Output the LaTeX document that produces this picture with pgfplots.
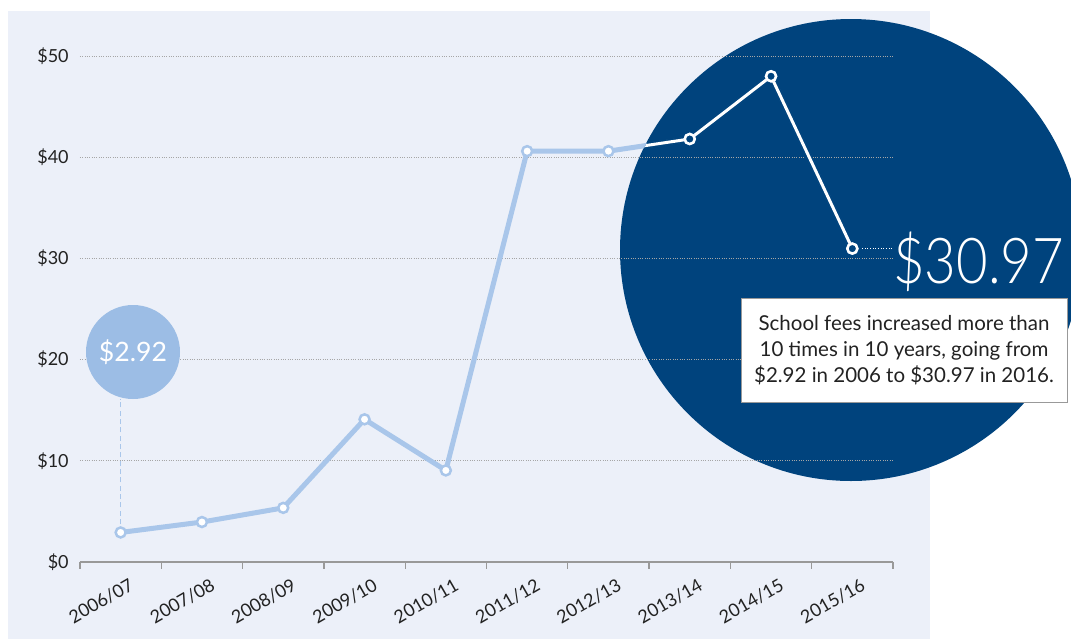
\documentclass[border=0pt]{standalone}
\usepackage{pgfplots}
\pgfplotsset{compat=1.18}
\usepackage{fontspec}
\setmainfont{Lato}
\newfontfamily\lightfont{Lato Light}
\definecolor{bgc}{HTML}{ECF0F9}
\definecolor{lineblue}{HTML}{A9C6EA}
\definecolor{navy}{HTML}{00437D}
\definecolor{smallc}{HTML}{9CBDE5}
\definecolor{txt}{HTML}{222222}
\begin{document}
\begin{tikzpicture}
\useasboundingbox (0pt,0pt) rectangle (642.6pt,-383.4pt);
\fill[bgc] (4.8pt,-6.6pt) rectangle (558pt,-383.4pt);
\fill[navy] (510.6pt,-150pt) circle[radius=138.6pt];
\begin{axis}[
  at={(48pt,-337.2pt)}, anchor=south west,
  scale only axis, width=487.8pt, height=303.6pt,
  xmin=-0.5, xmax=9.5, ymin=0, ymax=50,
  clip=false,
  axis lines*=left,
  y axis line style={draw=none},
  x axis line style={draw=black!40, line width=0.8pt},
  xtick={0,...,9},
  xticklabels={2006/07,2007/08,2008/09,2009/10,2010/11,2011/12,2012/13,2013/14,2014/15,2015/16},
  xtick style={draw=none},
  minor xtick={-0.5,0.5,...,9.5},
  minor tick length=4pt,
  minor x tick style={draw=black!40, line width=0.8pt},
  tick align=outside,
  ytick={0,10,...,50},
  yticklabels={\$0,\$10,\$20,\$30,\$40,\$50},
  ytick style={draw=none},
  ymajorgrids,
  grid style={black!35, densely dotted, line width=0.5pt},
  tick label style={font=\fontsize{10.8}{12}\selectfont, text=txt},
  xticklabel style={rotate=30, anchor=north east, xshift=5pt, yshift=-3pt},
  yticklabel style={xshift=1pt},
]
\draw[lineblue, densely dashed, line width=0.5pt] (axis cs:0,2.92) -- (axis cs:0,16.1);
\addplot[lineblue, line width=3pt, mark=*, mark size=3pt,
  mark options={fill=white, draw=lineblue, line width=1.5pt}]
  coordinates {(0,2.92) (1,3.95) (2,5.35) (3,14.1) (4,9.05) (5,40.6) (6,40.6) (7,41.8) (8,48.0) (9,30.97)};
\begin{scope}
\clip (axis cs:9,30.97) circle[radius=138.6pt];
\addplot[navy, line width=3.6pt, mark=none]
  coordinates {(0,2.92) (1,3.95) (2,5.35) (3,14.1) (4,9.05) (5,40.6) (6,40.6) (7,41.8) (8,48.0) (9,30.97)};
\addplot[white, line width=1.8pt, mark=none]
  coordinates {(0,2.92) (1,3.95) (2,5.35) (3,14.1) (4,9.05) (5,40.6) (6,40.6) (7,41.8) (8,48.0) (9,30.97)};
\end{scope}
\addplot[only marks, mark=*, mark size=3pt,
  mark options={fill=navy, draw=white, line width=1.5pt}]
  coordinates {(7,41.8) (8,48.0) (9,30.97)};
\draw[white, densely dotted, line width=0.6pt] (axis cs:9.12,30.97) -- (axis cs:9.5,30.97);
\end{axis}
\fill[smallc] (79.8pt,-211.2pt) circle[radius=28.2pt];
\node[text=white, font=\fontsize{16}{18}\selectfont] at (79.8pt,-211.2pt) {\$2.92};
\node[text=white, anchor=base west, inner sep=0pt, xscale=0.86, font=\lightfont\fontsize{38}{40}\selectfont] at (535.8pt,-169.8pt) {\$30.97};
\node[fill=white, draw=black!40, line width=0.5pt, minimum width=195.6pt, minimum height=62.4pt, align=center, inner sep=0pt, text=txt, font=\fontsize{12.3}{15.6}\selectfont] at (542.4pt,-210pt) {School fees increased more than\\10 times in 10 years, going from\\\$2.92 in 2006 to \$30.97 in 2016.};
\end{tikzpicture}
\end{document}
